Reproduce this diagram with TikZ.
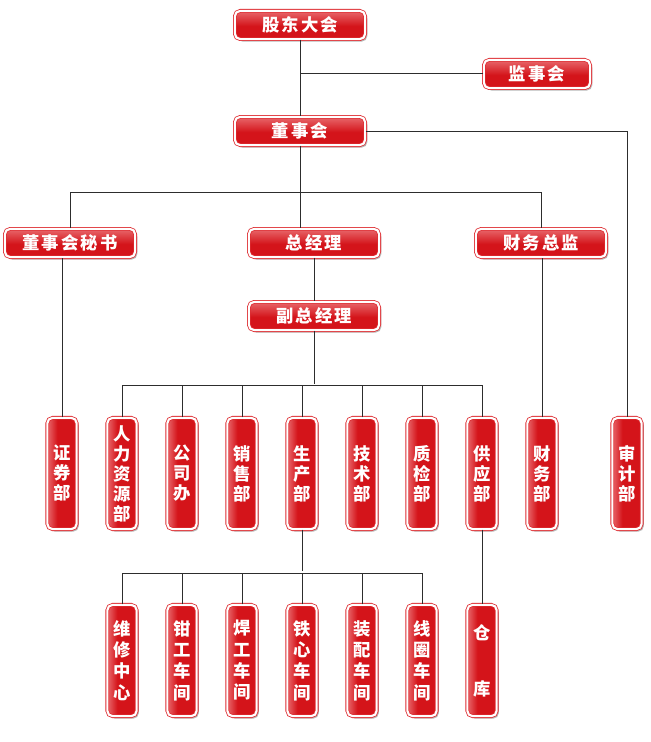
\documentclass[tikz,border=0pt]{standalone}
\usepackage{fontspec}
\newfontfamily\cjk[LetterSpace=12, BoldFont={Noto Sans CJK SC Black}]{Noto Sans CJK SC}
\usetikzlibrary{shadows}

\definecolor{boxred}{RGB}{212,20,26}
\definecolor{boxlight}{RGB}{232,104,108}
\definecolor{rimred}{RGB}{222,45,50}
\definecolor{linegray}{RGB}{45,45,45}

\pgfdeclareverticalshading{hshade}{100bp}{color(0bp)=(boxred); color(25bp)=(boxred);
  color(48bp)=(boxred); color(75bp)=(boxlight); color(100bp)=(boxlight)}
\pgfdeclarehorizontalshading{vshade}{100bp}{color(0bp)=(boxlight); color(25bp)=(boxlight);
  color(42bp)=(boxred); color(75bp)=(boxred); color(100bp)=(boxred)}

\tikzset{every picture/.style={line width=0.75pt}}
\tikzset{
  box/.style={draw=rimred, line width=0.6pt, double=white, double distance=1.6pt,
    rounded corners=4pt, inner sep=0pt, text=white,
    drop shadow={shadow xshift=1.6pt, shadow yshift=-1.8pt, opacity=0.28, fill=black}},
  hbox/.style={box, minimum width=97.7pt, minimum height=21.2pt, shading=hshade,
    font=\cjk\bfseries\fontsize{13}{14}\selectfont},
  vbox/.style={box, minimum width=22pt, minimum height=83.5pt, align=center,
    shading=vshade, font=\cjk\bfseries\fontsize{13}{15}\selectfont},
  wbox/.style={vbox, font=\cjk\bfseries\fontsize{13}{16}\selectfont},
  link/.style={draw=linegray, line width=0.75pt}
}

\begin{document}
\begin{tikzpicture}[x=0.75pt,y=0.75pt,yscale=-1,xscale=1]
%set diagram left start at 0, and has height of 742
\fill[white] (0,0) rectangle (650,742);
\useasboundingbox (0,0) rectangle (650,742);

%Top boxes
\node [hbox] (gd) at (300,25) {股东大会};
\node [hbox, minimum width=79.7pt] (jsh) at (537,74) {监事会};
\node [hbox] (dsh) at (300,131) {董事会};
\node [hbox] (ms) at (70,243) {董事会秘书};
\node [hbox] (zjl) at (314,243) {总经理};
\node [hbox] (cwzj) at (541,243) {财务总监};
\node [hbox] (fzjl) at (314,316) {副总经理};

%Departments
\node [vbox] (zq) at (62,473.5) {证\\券\\部};
\node [vbox] (rl) at (122,473.5) {人\\力\\资\\源\\部};
\node [vbox] (gs) at (182,473.5) {公\\司\\办};
\node [vbox] (xs) at (242,473.5) {销\\售\\部};
\node [vbox] (sc) at (302,473.5) {生\\产\\部};
\node [vbox] (js) at (362,473.5) {技\\术\\部};
\node [vbox] (zj) at (422,473.5) {质\\检\\部};
\node [vbox] (gy) at (482,473.5) {供\\应\\部};
\node [vbox] (cw) at (542,473.5) {财\\务\\部};
\node [vbox] (sj) at (627,473.5) {审\\计\\部};

%Workshops
\node [wbox] (wx) at (122,660.5) {维\\修\\中\\心};
\node [wbox] (qg) at (182,660.5) {钳\\工\\车\\间};
\node [wbox] (hg) at (242,660.5) {焊\\工\\车\\间};
\node [wbox] (tx) at (302,660.5) {铁\\心\\车\\间};
\node [wbox] (zp) at (362,660.5) {装\\配\\车\\间};
\node [wbox] (xq) at (422,660.5) {线\\圈\\车\\间};
\node [wbox] (ck) at (482,660.5) {仓\\[26pt]库};

%Connectors
\draw [link] (gd.south) -- (dsh.north);
\draw [link] (jsh.west) -- (jsh.west -| gd.south);
\draw [link] (dsh.east) -| (sj.north);
\draw [link] (dsh.south) -- (dsh.south |- zjl.north);
\draw [link] (ms.north) -- ++(0,-36) -| (cwzj.north);
\draw [link] (zjl.south) -- (fzjl.north);
\draw [link] (zq.north) -- (zq.north |- ms.south);
\draw [link] (cw.north) -- (cw.north |- cwzj.south);
\draw [link] (fzjl.south) -- (fzjl.south |- 0,384);
\draw [link] (rl.north) -- ++(0,-32) -| (gy.north);
\foreach \n in {gs,xs,sc,js,zj}
  \draw [link] (\n.north) -- ++(0,-32);
\draw [link] (sc.south) -- ++(0,41);
\draw [link] (wx.north) -- ++(0,-31) -| (xq.north);
\foreach \n in {qg,hg,tx,zp}
  \draw [link] (\n.north) -- ++(0,-31);
\draw [link] (gy.south) -- (ck.north);

\end{tikzpicture}
\end{document}
